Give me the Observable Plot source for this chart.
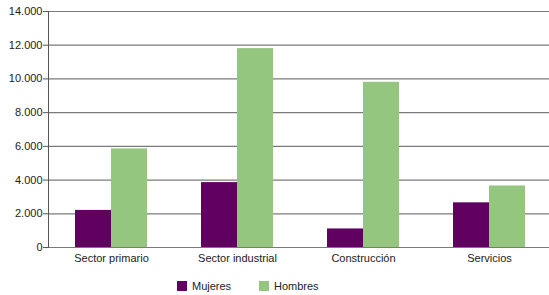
<!DOCTYPE html>
<html>
<head>
<meta charset="utf-8">
<script src="https://cdn.jsdelivr.net/npm/d3@7"></script>
<script src="https://cdn.jsdelivr.net/npm/@observablehq/plot@0.6"></script>
<style>
  body { margin: 0; background: #fff; font-family: "Liberation Sans", Arial, sans-serif; }
  #legend { position: relative; height: 25px; width: 549px; font-size: 11px; color: #222; }
  .item { position: absolute; top: 10px; display: flex; align-items: center; }
  .sw { width: 10px; height: 10px; margin-right: 5px; }
</style>
</head>
<body>
<div id="chart"></div>
<div id="legend"></div>
<script>
const categories = ["Sector primario", "Sector industrial", "Construcción", "Servicios"];
const series = ["Mujeres", "Hombres"];
const mujeres = [2200, 3850, 1100, 2650];
const hombres = [5850, 11800, 9800, 3650];
const yTicks = [0, 2000, 4000, 6000, 8000, 10000, 12000, 14000];
const colors = ["#600060", "#95c680"];

const data = categories.map((c, i) => ({cat: c, Mujeres: mujeres[i], Hombres: hombres[i]}));
const fmt = d3.formatLocale({decimal: ",", thousands: ".", grouping: [3], currency: ["", "€"]}).format(",d");

const chart = Plot.plot({
  width: 549,
  height: 270,
  marginTop: 11,
  marginBottom: 23,
  marginLeft: 48,
  marginRight: 0,
  style: {fontFamily: "Liberation Sans, Arial, sans-serif", fontSize: "11px", color: "#222", background: "#fff"},
  x: {domain: categories, range: [48, 551.5], paddingInner: 0.431, paddingOuter: 0.205, label: null},
  y: {domain: [0, 14000], label: null},
  marks: [
    Plot.ruleY(yTicks, {stroke: "#7a7a7a", strokeWidth: 1.2}),
    Plot.barY(data, {x: "cat", y: "Mujeres", fill: colors[0], insetRight: 36}),
    Plot.barY(data, {x: "cat", y: "Hombres", fill: colors[1], insetLeft: 36}),
    Plot.frame({anchor: "left", stroke: "#555"}),
    Plot.axisY({ticks: yTicks, tickFormat: fmt, tickSize: 5, tickPadding: 1, stroke: "#555"}),
    Plot.axisX({tickSize: 0, tickPadding: 7})
  ]
});
document.getElementById("chart").appendChild(chart);

const legend = document.getElementById("legend");
const lx = [177, 259];
series.forEach((s, i) => {
  const item = document.createElement("div");
  item.className = "item";
  item.style.left = lx[i] + "px";
  item.innerHTML = `<span class="sw" style="background:${colors[i]}"></span><span>${s}</span>`;
  legend.appendChild(item);
});
</script>
</body>
</html>
